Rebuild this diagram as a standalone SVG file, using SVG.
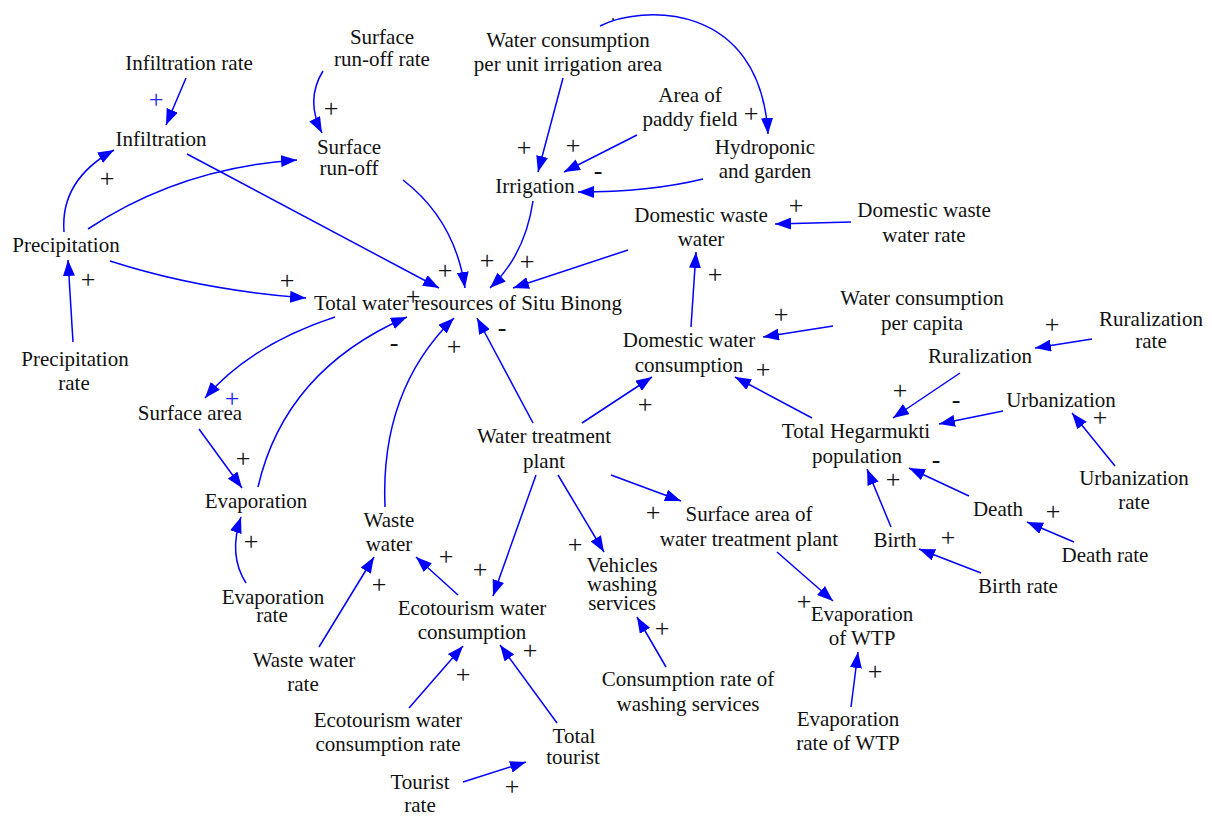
<svg xmlns="http://www.w3.org/2000/svg" width="1212" height="818" viewBox="0 0 1212 818">
<style>
text{font-family:"Liberation Serif","Times New Roman",serif;font-size:21px;fill:#111;}
.n text{text-anchor:middle;}
#signs text{text-anchor:middle;font-size:26px;fill:#111;}
#signs text.pb{fill:#2222ff;}
.c path{fill:none;stroke:#0000ff;stroke-width:1.5;marker-end:url(#ah);}
</style>
<defs>
<marker id="ah" viewBox="0 0 16 12" refX="16" refY="6" markerWidth="16" markerHeight="12" orient="auto" markerUnits="userSpaceOnUse">
<path d="M0,0 L16,6 L0,12 z" fill="#0000ff"/>
</marker>
</defs>
<rect width="1212" height="818" fill="#fff"/>

<g class="c" id="connectors">
<path d="M186,78 L166,125"/>
<path d="M323,71 Q305,100 322,133"/>
<path d="M64,232 Q60,180 114,150"/>
<path d="M88,229 Q180,168 297,160"/>
<path d="M187,154 L439,288"/>
<path d="M403,180 Q455,220 465,288"/>
<path d="M533,201 Q525,255 490,288"/>
<path d="M628,250 L513,288"/>
<path d="M110,261 Q200,290 306,298"/>
<path d="M73,342 L68,260"/>
<path d="M335,317 Q250,345 205,398"/>
<path d="M199,429 L242,488"/>
<path d="M258,487 Q285,370 407,317"/>
<path d="M385,507 Q380,390 454,318"/>
<path d="M533,423 L477,318"/>
<path d="M582,423 L652,377"/>
<path d="M812,418 L735,377"/>
<path d="M833,326 L763,337"/>
<path d="M691,327 L696,252"/>
<path d="M851,222 L775,224"/>
<path d="M703,179 Q650,192 578,192"/>
<path d="M637,135 L564,172"/>
<path d="M563,78 L538,172"/>
<path d="M600,26 C640,5 760,0 768,134"/>
<path d="M1092,339 L1035,348"/>
<path d="M960,373 L893,418"/>
<path d="M1003,411 L939,424"/>
<path d="M1115,466 L1072,413"/>
<path d="M969,496 L909,468"/>
<path d="M891,527 L867,469"/>
<path d="M1074,542 L1027,522"/>
<path d="M981,573 L919,549"/>
<path d="M611,475 L681,501"/>
<path d="M777,552 L833,601"/>
<path d="M851,707 L858,652"/>
<path d="M558,475 L604,552"/>
<path d="M666,667 L637,617"/>
<path d="M536,475 L493,596"/>
<path d="M458,595 L416,557"/>
<path d="M319,647 L374,557"/>
<path d="M409,708 L463,646"/>
<path d="M557,723 L500,645"/>
<path d="M463,782 L526,762"/>
<path d="M246,583 Q228,555 241,517"/>
</g>

<g id="signs">
<text class="pb" x="156" y="108">+</text>
<text x="331" y="117">+</text>
<text x="107" y="187">+</text>
<text x="445" y="279">+</text>
<text x="487" y="269">+</text>
<text x="527" y="270">+</text>
<text x="287" y="289">+</text>
<text x="88" y="288">+</text>
<text class="pb" x="232" y="407">+</text>
<text x="243" y="467">+</text>
<text x="394" y="351">-</text>
<text x="454" y="355">+</text>
<text x="502" y="336">-</text>
<text x="413" y="305">+</text>
<text x="645" y="413">+</text>
<text x="763" y="378">+</text>
<text x="781" y="323">+</text>
<text x="715" y="283">+</text>
<text x="796" y="214">+</text>
<text x="598" y="179">-</text>
<text x="573" y="154">+</text>
<text x="524" y="156">+</text>
<text x="751" y="122">+</text>
<text x="1052" y="333">+</text>
<text x="900" y="399">+</text>
<text x="956" y="408">-</text>
<text x="1100" y="426">+</text>
<text x="936" y="468">-</text>
<text x="893" y="488">+</text>
<text x="1053" y="520">+</text>
<text x="948" y="546">+</text>
<text x="653" y="521">+</text>
<text x="804" y="610">+</text>
<text x="875" y="680">+</text>
<text x="575" y="553">+</text>
<text x="662" y="637">+</text>
<text x="480" y="578">+</text>
<text x="446" y="565">+</text>
<text x="379" y="593">+</text>
<text x="463" y="683">+</text>
<text x="530" y="659">+</text>
<text x="512" y="795">+</text>
<text x="251" y="550">+</text>
<text x="613" y="20" style="font-size:16px">.</text>
</g>

<g class="n" id="infiltration-rate"><text x="189" y="70">Infiltration rate</text></g>
<g class="n" id="surface-runoff-rate"><text x="382" y="44">Surface</text><text x="382" y="66">run-off rate</text></g>
<g class="n" id="infiltration"><text x="161" y="146">Infiltration</text></g>
<g class="n" id="surface-runoff"><text x="349" y="154">Surface</text><text x="349" y="175">run-off</text></g>
<g class="n" id="precipitation"><text x="66" y="252">Precipitation</text></g>
<g class="n" id="precipitation-rate"><text x="75" y="366">Precipitation</text><text x="74" y="390">rate</text></g>
<g class="n" id="total-water"><text x="468" y="310">Total water resources of Situ Binong</text></g>
<g class="n" id="surface-area"><text x="190" y="420">Surface area</text></g>
<g class="n" id="evaporation"><text x="256" y="508">Evaporation</text></g>
<g class="n" id="evaporation-rate"><text x="273" y="604">Evaporation</text><text x="272" y="622">rate</text></g>
<g class="n" id="waste-water"><text x="389" y="527">Waste</text><text x="389" y="551">water</text></g>
<g class="n" id="waste-water-rate"><text x="304" y="667">Waste water</text><text x="303" y="691">rate</text></g>
<g class="n" id="eco-rate"><text x="388" y="727">Ecotourism water</text><text x="388" y="751">consumption rate</text></g>
<g class="n" id="tourist-rate"><text x="420" y="789">Tourist</text><text x="420" y="812">rate</text></g>
<g class="n" id="total-tourist"><text x="574" y="743">Total</text><text x="573" y="764">tourist</text></g>
<g class="n" id="eco-consumption"><text x="472" y="615">Ecotourism water</text><text x="472" y="639">consumption</text></g>
<g class="n" id="wtp"><text x="544" y="443">Water treatment</text><text x="544" y="468">plant</text></g>
<g class="n" id="vehicles"><text x="622" y="572">Vehicles</text><text x="622" y="591">washing</text><text x="622" y="610">services</text></g>
<g class="n" id="surface-area-wtp"><text x="749" y="521">Surface area of</text><text x="749" y="546">water treatment plant</text></g>
<g class="n" id="washing-rate"><text x="688" y="686">Consumption rate of</text><text x="688" y="711">washing services</text></g>
<g class="n" id="evap-wtp"><text x="862" y="621">Evaporation</text><text x="862" y="645">of WTP</text></g>
<g class="n" id="evap-rate-wtp"><text x="848" y="726">Evaporation</text><text x="848" y="750">rate of WTP</text></g>
<g class="n" id="birth"><text x="895" y="547">Birth</text></g>
<g class="n" id="birth-rate"><text x="1018" y="593">Birth rate</text></g>
<g class="n" id="death"><text x="998" y="516">Death</text></g>
<g class="n" id="death-rate"><text x="1105" y="562">Death rate</text></g>
<g class="n" id="urbanization-rate"><text x="1134" y="485">Urbanization</text><text x="1134" y="509">rate</text></g>
<g class="n" id="urbanization"><text x="1061" y="407">Urbanization</text></g>
<g class="n" id="population"><text x="856" y="438">Total Hegarmukti</text><text x="857" y="463">population</text></g>
<g class="n" id="ruralization"><text x="980" y="363">Ruralization</text></g>
<g class="n" id="ruralization-rate"><text x="1151" y="326">Ruralization</text><text x="1151" y="348">rate</text></g>
<g class="n" id="wc-per-capita"><text x="922" y="305">Water consumption</text><text x="922" y="330">per capita</text></g>
<g class="n" id="dww-rate"><text x="924" y="217">Domestic waste</text><text x="924" y="242">water rate</text></g>
<g class="n" id="domestic-consumption"><text x="689" y="347">Domestic water</text><text x="689" y="372">consumption</text></g>
<g class="n" id="domestic-waste"><text x="701" y="222">Domestic waste</text><text x="701" y="246">water</text></g>
<g class="n" id="irrigation"><text x="535" y="193">Irrigation</text></g>
<g class="n" id="hydroponic"><text x="765" y="154">Hydroponic</text><text x="765" y="178">and garden</text></g>
<g class="n" id="paddy"><text x="690" y="102">Area of</text><text x="690" y="126">paddy field</text></g>
<g class="n" id="wc-irrigation"><text x="568" y="47">Water consumption</text><text x="568" y="71">per unit irrigation area</text></g>
</svg>
